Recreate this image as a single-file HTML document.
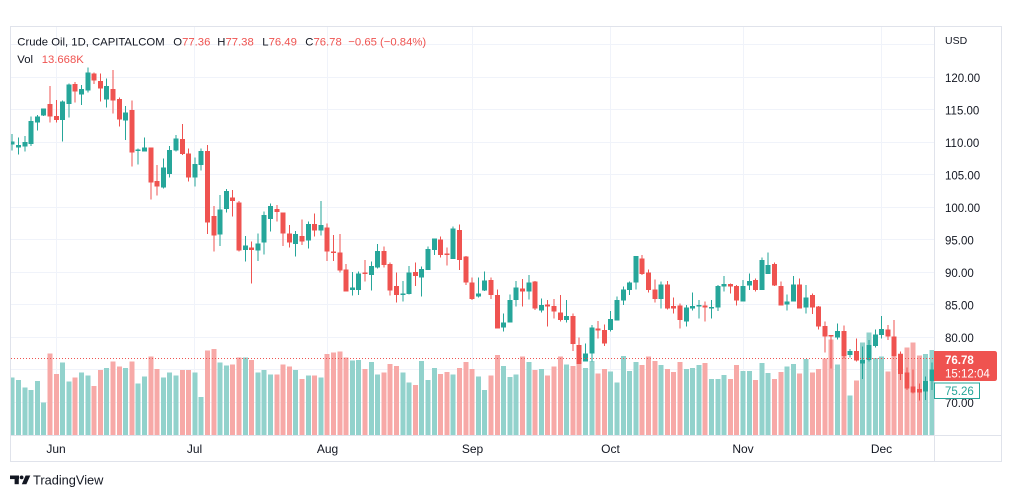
<!DOCTYPE html>
<html><head><meta charset="utf-8"><style>
html,body{margin:0;padding:0;background:#fff;width:1012px;height:498px;overflow:hidden}
svg{display:block;font-family:"Liberation Sans",Arial,sans-serif}
.cr{shape-rendering:crispEdges}
</style></head><body>
<svg width="1012" height="498" viewBox="0 0 1012 498" xmlns="http://www.w3.org/2000/svg">
<defs><clipPath id="cp"><rect x="11" y="27" width="923" height="408"/></clipPath></defs>
<rect width="1012" height="498" fill="#fff"/>
<g stroke="#f0f3fa" stroke-width="1" class="cr">
<path d="M11 44.5H934M11 77.5H934M11 109.5H934M11 142.5H934M11 174.5H934M11 207.5H934M11 239.5H934M11 272.5H934M11 304.5H934M11 337.5H934M11 369.5H934M11 402.5H934"/>
<path d="M56.5 27V435M194.5 27V435M327.5 27V435M472.5 27V435M610.5 27V435M743.5 27V435M881.5 27V435"/>
</g>
<g clip-path="url(#cp)">
<g transform="translate(5.9 60) scale(6.3 0.333333)" class="cr">
<path fill="#92d2cc" d="M.6 953h.8V1125h-.8zM1.6 960h.8V1125h-.8zM2.6 982h.8V1125h-.8zM3.6 990h.8V1125h-.8zM4.6 963h.8V1125h-.8zM5.6 1028h.8V1125h-.8zM8.6 908h.8V1125h-.8zM9.6 965h.8V1125h-.8zM11.6 938h.8V1125h-.8zM12.6 947h.8V1125h-.8zM15.6 924h.8V1125h-.8zM18.6 924h.8V1125h-.8zM20.6 971h.8V1125h-.8zM21.6 950h.8V1125h-.8zM24.6 953h.8V1125h-.8zM25.6 938h.8V1125h-.8zM26.6 947h.8V1125h-.8zM29.6 938h.8V1125h-.8zM30.6 1011h.8V1125h-.8zM33.6 908h.8V1125h-.8zM34.6 917h.8V1125h-.8zM37.6 893h.8V1125h-.8zM39.6 938h.8V1125h-.8zM40.6 930h.8V1125h-.8zM41.6 944h.8V1125h-.8zM45.6 930h.8V1125h-.8zM47.6 947h.8V1125h-.8zM49.6 953h.8V1125h-.8zM54.6 902h.8V1125h-.8zM55.6 900h.8V1125h-.8zM57.6 906h.8V1125h-.8zM58.6 944h.8V1125h-.8zM62.6 938h.8V1125h-.8zM63.6 968h.8V1125h-.8zM65.6 903h.8V1125h-.8zM66.6 960h.8V1125h-.8zM67.6 924h.8V1125h-.8zM70.6 944h.8V1125h-.8zM74.6 950h.8V1125h-.8zM75.6 990h.8V1125h-.8zM78.6 918h.8V1125h-.8zM79.6 951h.8V1125h-.8zM80.6 944h.8V1125h-.8zM82.6 906h.8V1125h-.8zM84.6 927h.8V1125h-.8zM88.6 914h.8V1125h-.8zM91.6 924h.8V1125h-.8zM92.6 903h.8V1125h-.8zM95.6 935h.8V1125h-.8zM96.6 968h.8V1125h-.8zM97.6 888h.8V1125h-.8zM98.6 933h.8V1125h-.8zM99.6 906h.8V1125h-.8zM103.6 915h.8V1125h-.8zM107.6 927h.8V1125h-.8zM108.6 924h.8V1125h-.8zM109.6 915h.8V1125h-.8zM111.6 957h.8V1125h-.8zM112.6 957h.8V1125h-.8zM113.6 945h.8V1125h-.8zM116.6 933h.8V1125h-.8zM117.6 933h.8V1125h-.8zM119.6 909h.8V1125h-.8zM120.6 939h.8V1125h-.8zM123.6 920h.8V1125h-.8zM124.6 912h.8V1125h-.8zM126.6 897h.8V1125h-.8zM131.6 914h.8V1125h-.8zM133.6 1007h.8V1125h-.8zM135.6 848h.8V1125h-.8zM136.6 818h.8V1125h-.8zM137.6 894h.8V1125h-.8zM138.6 890h.8V1125h-.8zM145.6 882h.8V1125h-.8zM146.6 870h.8V1125h-.8z"/>
<path fill="#f7a9a7" d="M6.6 880h.8V1125h-.8zM7.6 942h.8V1125h-.8zM10.6 953h.8V1125h-.8zM13.6 978h.8V1125h-.8zM14.6 930h.8V1125h-.8zM16.6 905h.8V1125h-.8zM17.6 920h.8V1125h-.8zM19.6 905h.8V1125h-.8zM22.6 890h.8V1125h-.8zM23.6 927h.8V1125h-.8zM27.6 930h.8V1125h-.8zM28.6 930h.8V1125h-.8zM31.6 872h.8V1125h-.8zM32.6 867h.8V1125h-.8zM35.6 914h.8V1125h-.8zM36.6 893h.8V1125h-.8zM38.6 900h.8V1125h-.8zM42.6 944h.8V1125h-.8zM43.6 914h.8V1125h-.8zM44.6 920h.8V1125h-.8zM46.6 957h.8V1125h-.8zM48.6 947h.8V1125h-.8zM50.6 882h.8V1125h-.8zM51.6 878h.8V1125h-.8zM52.6 875h.8V1125h-.8zM53.6 893h.8V1125h-.8zM56.6 927h.8V1125h-.8zM59.6 938h.8V1125h-.8zM60.6 912h.8V1125h-.8zM61.6 918h.8V1125h-.8zM64.6 975h.8V1125h-.8zM68.6 942h.8V1125h-.8zM69.6 936h.8V1125h-.8zM71.6 924h.8V1125h-.8zM72.6 906h.8V1125h-.8zM73.6 927h.8V1125h-.8zM76.6 947h.8V1125h-.8zM77.6 885h.8V1125h-.8zM81.6 890h.8V1125h-.8zM83.6 930h.8V1125h-.8zM85.6 947h.8V1125h-.8zM86.6 920h.8V1125h-.8zM87.6 890h.8V1125h-.8zM89.6 918h.8V1125h-.8zM90.6 872h.8V1125h-.8zM93.6 941h.8V1125h-.8zM94.6 927h.8V1125h-.8zM100.6 915h.8V1125h-.8zM101.6 890h.8V1125h-.8zM102.6 903h.8V1125h-.8zM104.6 927h.8V1125h-.8zM105.6 936h.8V1125h-.8zM106.6 906h.8V1125h-.8zM110.6 909h.8V1125h-.8zM114.6 957h.8V1125h-.8zM115.6 915h.8V1125h-.8zM118.6 960h.8V1125h-.8zM121.6 957h.8V1125h-.8zM122.6 936h.8V1125h-.8zM125.6 941h.8V1125h-.8zM127.6 938h.8V1125h-.8zM128.6 927h.8V1125h-.8zM129.6 896h.8V1125h-.8zM130.6 838h.8V1125h-.8zM132.6 885h.8V1125h-.8zM134.6 962h.8V1125h-.8zM139.6 935h.8V1125h-.8zM140.6 888h.8V1125h-.8zM141.6 880h.8V1125h-.8zM142.6 862h.8V1125h-.8zM143.6 848h.8V1125h-.8zM144.6 887h.8V1125h-.8z"/>
<path fill="#26a69a" d="M.92 222h.16V272h-.16zM.6 245h.8V253h-.8zM1.92 232h.16V283h-.16zM1.6 255h.8V262h-.8zM2.92 228h.16V275h-.16zM2.6 246h.8V260h-.8zM3.92 170h.16V258h-.16zM3.6 183h.8V252h-.8zM4.92 165h.16V212h-.16zM4.6 170h.8V188h-.8zM5.92 145h.16V168h-.16zM5.6 145h.8V167h-.8zM8.92 122h.16V245h-.16zM8.6 125h.8V180h-.8zM9.92 70h.16V173h-.16zM9.6 73h.8V132h-.8zM11.92 75h.16V135h-.16zM11.6 87h.8V103h-.8zM12.92 22h.16V98h-.16zM12.6 37h.8V92h-.8zM15.92 55h.16V143h-.16zM15.6 78h.8V118h-.8zM18.92 138h.16V240h-.16zM18.6 158h.8V182h-.8zM20.92 265h.16V313h-.16zM20.6 268h.8V273h-.8zM21.92 232h.16V275h-.16zM21.6 262h.8V275h-.8zM24.92 295h.16V385h-.16zM24.6 322h.8V383h-.8zM25.92 258h.16V352h-.16zM25.6 270h.8V342h-.8zM26.92 225h.16V275h-.16zM26.6 236h.8V272h-.8zM29.92 292h.16V380h-.16zM29.6 312h.8V353h-.8zM30.92 265h.16V332h-.16zM30.6 273h.8V315h-.8zM33.92 405h.16V558h-.16zM33.6 448h.8V524h-.8zM34.92 387h.16V458h-.16zM34.6 393h.8V447h-.8zM37.92 528h.16V605h-.16zM37.6 557h.8V570h-.8zM39.92 520h.16V603h-.16zM39.6 550h.8V572h-.8zM40.92 455h.16V583h-.16zM40.6 465h.8V548h-.8zM41.92 430h.16V515h-.16zM41.6 438h.8V477h-.8zM45.92 513h.16V590h-.16zM45.6 522h.8V552h-.8zM47.92 485h.16V565h-.16zM47.6 492h.8V542h-.8zM49.92 423h.16V527h-.16zM49.6 495h.8V512h-.8zM54.92 636h.16V707h-.16zM54.6 682h.8V690h-.8zM55.92 635h.16V705h-.16zM55.6 640h.8V690h-.8zM57.92 605h.16V692h-.16zM57.6 618h.8V645h-.8zM58.92 552h.16V625h-.16zM58.6 573h.8V622h-.8zM62.92 663h.16V725h-.16zM62.6 700h.8V705h-.8zM63.92 618h.16V703h-.16zM63.6 638h.8V702h-.8zM65.92 620h.16V710h-.16zM65.6 627h.8V653h-.8zM66.92 560h.16V630h-.16zM66.6 567h.8V630h-.8zM67.92 535h.16V585h-.16zM67.6 535h.8V570h-.8zM70.92 500h.16V597h-.16zM70.6 506h.8V597h-.8zM74.92 652h.16V712h-.16zM74.6 700h.8V710h-.8zM75.92 635h.16V693h-.16zM75.6 662h.8V692h-.8zM78.92 760h.16V815h-.16zM78.6 787h.8V803h-.8zM79.92 703h.16V788h-.16zM79.6 720h.8V788h-.8zM80.92 663h.16V740h-.16zM80.6 682h.8V720h-.8zM82.92 645h.16V718h-.16zM82.6 667h.8V695h-.8zM84.92 715h.16V757h-.16zM84.6 735h.8V752h-.8zM88.92 720h.16V787h-.16zM88.6 768h.8V780h-.8zM91.92 850h.16V905h-.16zM91.6 880h.8V905h-.8zM92.92 795h.16V905h-.16zM92.6 803h.8V880h-.8zM95.92 753h.16V815h-.16zM95.6 777h.8V810h-.8zM96.92 710h.16V782h-.16zM96.6 720h.8V782h-.8zM97.92 680h.16V735h-.16zM97.6 688h.8V722h-.8zM98.92 665h.16V705h-.16zM98.6 668h.8V690h-.8zM99.92 588h.16V688h-.16zM99.6 588h.8V668h-.8zM103.92 665h.16V745h-.16zM103.6 673h.8V717h-.8zM107.92 735h.16V800h-.16zM107.6 742h.8V785h-.8zM108.92 697h.16V752h-.16zM108.6 738h.8V745h-.8zM109.92 720h.16V775h-.16zM109.6 735h.8V739h-.8zM111.92 720h.16V775h-.16zM111.6 741h.8V745h-.8zM112.92 675h.16V753h-.16zM112.6 678h.8V743h-.8zM113.92 648h.16V695h-.16zM113.6 672h.8V680h-.8zM116.92 660h.16V725h-.16zM116.6 678h.8V725h-.8zM117.92 640h.16V690h-.16zM117.6 663h.8V677h-.8zM119.92 593h.16V690h-.16zM119.6 600h.8V690h-.8zM120.92 578h.16V642h-.16zM120.6 615h.8V642h-.8zM123.92 703h.16V752h-.16zM123.6 724h.8V733h-.8zM124.92 648h.16V725h-.16zM124.6 673h.8V725h-.8zM126.92 675h.16V760h-.16zM126.6 712h.8V743h-.8zM131.92 790h.16V838h-.16zM131.6 813h.8V832h-.8zM133.92 867h.16V892h-.16zM133.6 873h.8V885h-.8zM135.92 860h.16V957h-.16zM135.6 900h.8V910h-.8zM136.92 840h.16V905h-.16zM136.6 855h.8V900h-.8zM137.92 808h.16V862h-.16zM137.6 823h.8V858h-.8zM138.92 768h.16V835h-.16zM138.6 807h.8V825h-.8zM145.92 950h.16V1020h-.16zM145.6 963h.8V995h-.8zM146.92 908h.16V990h-.16zM146.6 928h.8V963h-.8z"/>
<path fill="#ef5350" d="M6.92 78h.16V188h-.16zM6.6 132h.8V170h-.8zM7.92 120h.16V188h-.16zM7.6 168h.8V180h-.8zM10.92 66h.16V128h-.16zM10.6 72h.8V95h-.8zM13.92 37h.16V72h-.16zM13.6 40h.8V62h-.8zM14.92 40h.16V125h-.16zM14.6 63h.8V86h-.8zM16.92 30h.16V160h-.16zM16.6 87h.8V122h-.8zM17.92 112h.16V200h-.16zM17.6 117h.8V178h-.8zM19.92 122h.16V320h-.16zM19.6 150h.8V278h-.8zM22.92 262h.16V418h-.16zM22.6 262h.8V368h-.8zM23.92 315h.16V406h-.16zM23.6 363h.8V380h-.8zM27.92 192h.16V285h-.16zM27.6 237h.8V282h-.8zM28.92 265h.16V365h-.16zM28.6 280h.8V353h-.8zM31.92 255h.16V522h-.16zM31.6 273h.8V488h-.8zM32.92 438h.16V575h-.16zM32.6 468h.8V527h-.8zM35.92 390h.16V470h-.16zM35.6 413h.8V423h-.8zM36.92 423h.16V575h-.16zM36.6 428h.8V572h-.8zM38.92 545h.16V670h-.16zM38.6 562h.8V570h-.8zM42.92 435h.16V485h-.16zM42.6 447h.8V456h-.8zM43.92 457h.16V558h-.16zM43.6 457h.8V520h-.8zM44.92 495h.16V563h-.16zM44.6 520h.8V548h-.8zM46.92 478h.16V555h-.16zM46.6 528h.8V545h-.8zM48.92 460h.16V530h-.16zM48.6 492h.8V512h-.8zM50.92 490h.16V603h-.16zM50.6 502h.8V575h-.8zM51.92 525h.16V603h-.16zM51.6 574h.8V579h-.8zM52.92 522h.16V638h-.16zM52.6 577h.8V632h-.8zM53.92 612h.16V695h-.16zM53.6 628h.8V695h-.8zM56.92 600h.16V665h-.16zM56.6 637h.8V642h-.8zM59.92 560h.16V623h-.16zM59.6 573h.8V615h-.8zM60.92 608h.16V707h-.16zM60.6 612h.8V692h-.8zM61.92 637h.16V728h-.16zM61.6 678h.8V705h-.8zM64.92 607h.16V678h-.16zM64.6 636h.8V648h-.8zM68.92 530h.16V593h-.16zM68.6 538h.8V585h-.8zM69.92 562h.16V617h-.16zM69.6 580h.8V585h-.8zM71.92 494h.16V630h-.16zM71.6 510h.8V600h-.8zM72.92 588h.16V675h-.16zM72.6 590h.8V668h-.8zM73.92 652h.16V720h-.16zM73.6 667h.8V717h-.8zM76.92 652h.16V717h-.16zM76.6 660h.8V705h-.8zM77.92 688h.16V805h-.16zM77.6 705h.8V805h-.8zM81.92 657h.16V740h-.16zM81.6 685h.8V695h-.8zM83.92 663h.16V750h-.16zM83.6 665h.8V745h-.8zM85.92 720h.16V800h-.16zM85.6 733h.8V740h-.8zM86.92 717h.16V775h-.16zM86.6 738h.8V755h-.8zM87.92 705h.16V785h-.16zM87.6 757h.8V780h-.8zM89.92 760h.16V873h-.16zM89.6 768h.8V852h-.8zM90.92 832h.16V912h-.16zM90.6 855h.8V912h-.8zM93.92 783h.16V835h-.16zM93.6 806h.8V812h-.8zM94.92 793h.16V858h-.16zM94.6 810h.8V850h-.8zM100.92 585h.16V645h-.16zM100.6 595h.8V642h-.8zM101.92 628h.16V698h-.16zM101.6 638h.8V690h-.8zM102.92 658h.16V728h-.16zM102.6 688h.8V717h-.8zM104.92 663h.16V748h-.16zM104.6 673h.8V745h-.8zM105.92 712h.16V760h-.16zM105.6 738h.8V745h-.8zM106.92 730h.16V805h-.16zM106.6 737h.8V780h-.8zM110.92 725h.16V785h-.16zM110.6 737h.8V743h-.8zM114.92 670h.16V700h-.16zM114.6 672h.8V680h-.8zM115.92 675h.16V737h-.16zM115.6 678h.8V722h-.8zM118.92 655h.16V695h-.16zM118.6 660h.8V690h-.8zM121.92 608h.16V678h-.16zM121.6 612h.8V677h-.8zM122.92 665h.16V737h-.16zM122.6 678h.8V737h-.8zM125.92 655h.16V745h-.16zM125.6 673h.8V745h-.8zM127.92 700h.16V762h-.16zM127.6 705h.8V742h-.8zM128.92 738h.16V808h-.16zM128.6 740h.8V800h-.8zM129.92 785h.16V878h-.16zM129.6 798h.8V830h-.8zM130.92 825h.16V925h-.16zM130.6 825h.8V830h-.8zM132.92 796h.16V895h-.16zM132.6 813h.8V888h-.8zM134.92 835h.16V905h-.16zM134.6 873h.8V902h-.8zM139.92 795h.16V840h-.16zM139.6 808h.8V830h-.8zM140.92 780h.16V890h-.16zM140.6 830h.8V888h-.8zM141.92 875h.16V960h-.16zM141.6 882h.8V942h-.8zM142.92 922h.16V990h-.16zM142.6 937h.8V985h-.8zM143.92 928h.16V1000h-.16zM143.6 980h.8V997h-.8zM144.92 970h.16V1022h-.16zM144.6 987h.8V998h-.8z"/>
</g>
<line x1="11" y1="358.5" x2="934" y2="358.5" stroke="#ef5350" stroke-width="1" stroke-dasharray="1 2"/>
</g>
<g stroke="#e0e3eb" stroke-width="1" fill="none" class="cr">
<rect x="10.5" y="26.5" width="991" height="435"/>
<line x1="934.5" y1="27" x2="934.5" y2="461"/>
<line x1="11" y1="435.5" x2="1001" y2="435.5"/>
</g>
<g font-size="11.3" fill="#131722">
<text x="17.3" y="45.7">Crude Oil, 1D, CAPITALCOM</text>
<text x="173.3" y="45.7">O<tspan fill="#ef5350">77.36</tspan></text>
<text x="217.3" y="45.7">H<tspan fill="#ef5350">77.38</tspan></text>
<text x="262.3" y="45.7">L<tspan fill="#ef5350">76.49</tspan></text>
<text x="305.3" y="45.7">C<tspan fill="#ef5350">76.78</tspan></text>
<text x="348.3" y="45.7" fill="#ef5350">−0.65 (−0.84%)</text>
<text x="17.3" y="63">Vol</text>
<text x="41.7" y="63" fill="#ef5350">13.668K</text>
</g>
<g font-size="11.5" fill="#131722">
<text x="945" y="44" font-size="10.5">USD</text>
<text x="945" y="81.9">120.00</text>
<text x="945" y="114.4">115.00</text>
<text x="945" y="146.9">110.00</text>
<text x="945" y="179.4">105.00</text>
<text x="945" y="211.9">100.00</text>
<text x="945" y="244.4">95.00</text>
<text x="945" y="276.9">90.00</text>
<text x="945" y="309.4">85.00</text>
<text x="945" y="341.9">80.00</text>
<text x="945" y="406.9">70.00</text>
</g>
<rect x="934.5" y="383" width="45" height="15.5" fill="#fff" stroke="#26a69a" stroke-width="1"/>
<text x="945" y="394.8" font-size="11.5" fill="#26a69a">75.26</text>
<path d="M934 351H994.5Q997 351 997 353.5V378.5Q997 381 994.5 381H934Z" fill="#ef5350"/>
<text x="945" y="364.2" font-size="11.5" font-weight="bold" fill="#fff">76.78</text>
<text x="945" y="377.5" font-size="11.5" fill="#fff">15:12:04</text>
<g font-size="12" fill="#131722" text-anchor="middle">
<text x="56" y="453">Jun</text>
<text x="194.5" y="453">Jul</text>
<text x="327.5" y="453">Aug</text>
<text x="472.5" y="453">Sep</text>
<text x="610.5" y="453">Oct</text>
<text x="743" y="453">Nov</text>
<text x="881.5" y="453">Dec</text>
</g>
<g fill="#131722">
<rect x="10" y="475.5" width="9" height="3.6"/>
<rect x="14.6" y="475.5" width="4.2" height="8.7"/>
<circle cx="21.6" cy="477.4" r="1.9"/>
<polygon points="25.6,475.5 30.3,475.5 26.4,484.2 21.8,484.2"/>
</g>
<text x="33" y="484.3" font-size="12.8" fill="#131722">TradingView</text>
</svg>
</body></html>
